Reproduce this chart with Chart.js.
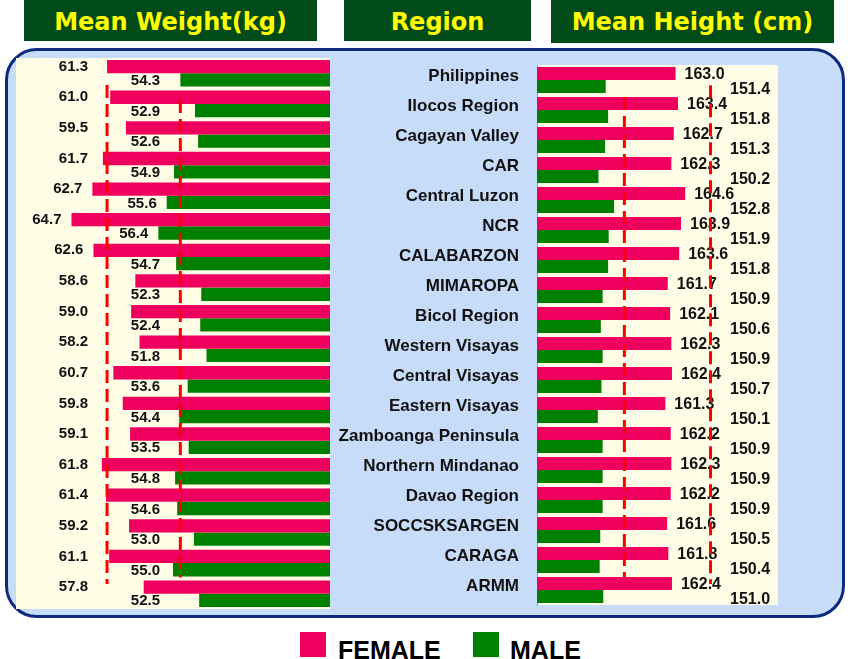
<!DOCTYPE html>
<html>
<head>
<meta charset="utf-8">
<script src="https://cdn.jsdelivr.net/npm/chart.js@4.4.1/dist/chart.umd.min.js"></script>
<style>
  body { margin: 0; width: 850px; height: 659px; background: #fff; position: relative; overflow: hidden; }
  .head { position: absolute; top: 0; background: #014b1b; color: #ffff00; text-align: center;
          font: bold 24px "DejaVu Sans", Verdana, sans-serif; }
  .panel { position: absolute; left: 5px; top: 48px; width: 840px; height: 570px; box-sizing: border-box;
           border: 3px solid #0d2b7e; border-radius: 32px; background: #c6dcf9; }
  canvas { position: absolute; }
  .swatch { position: absolute; top: 632px; width: 26px; height: 25px; }
  .legend-text { position: absolute; top: 636px; line-height: 25px; color: #000;
                 font: bold 25px "Liberation Sans", Arial, sans-serif; }
</style>
</head>
<body>
<div class="head" style="left:24px;width:293px;height:41px;line-height:44px;">Mean Weight(kg)</div>
<div class="head" style="left:344px;width:187px;height:41px;line-height:44px;">Region</div>
<div class="head" style="left:551px;width:283px;height:43px;line-height:45px;">Mean Height (cm)</div>

<div class="panel"></div>
<canvas id="weightChart" width="314" height="551" style="left:16px;top:58px;"></canvas>
<canvas id="heightChart" width="448" height="551" style="left:330px;top:58px;"></canvas>

<div class="swatch" style="left:300px;background:#f0005e;"></div>
<div class="legend-text" style="left:338px;">FEMALE</div>
<div class="swatch" style="left:473px;background:#008000;"></div>
<div class="legend-text" style="left:510px;">MALE</div>

<script>
// Data
const regions = ['Philippines', 'Ilocos Region', 'Cagayan Valley', 'CAR', 'Central Luzon', 'NCR',
    'CALABARZON', 'MIMAROPA', 'Bicol Region', 'Western Visayas', 'Central Visayas', 'Eastern Visayas',
    'Zamboanga Peninsula', 'Northern Mindanao', 'Davao Region', 'SOCCSKSARGEN', 'CARAGA', 'ARMM'];

const femaleWeight = [61.3, 61.0, 59.5, 61.7, 62.7, 64.7, 62.6, 58.6, 59.0, 58.2, 60.7, 59.8, 59.1, 61.8, 61.4, 59.2, 61.1, 57.8];
const maleWeight = [54.3, 52.9, 52.6, 54.9, 55.6, 56.4, 54.7, 52.3, 52.4, 51.8, 53.6, 54.4, 53.5, 54.8, 54.6, 53.0, 55.0, 52.5];

const femaleHeight = [163.0, 163.4, 162.7, 162.3, 164.6, 163.9, 163.6, 161.7, 162.1, 162.3, 162.4, 161.3, 162.2, 162.3, 162.2, 161.6, 161.8, 162.4];
const maleHeight = [151.4, 151.8, 151.3, 150.2, 152.8, 151.9, 151.8, 150.9, 150.6, 150.9, 150.7, 150.1, 150.9, 150.9, 150.9, 150.5, 150.4, 151.0];

// red dashed reference lines (value on x, span on the hidden 0-1 axis)
const weightRefLines = [61.3, 54.3];
const weightRefSpans = [[0, 0.996], [0.013, 0.966]];
const heightRefLines = [154.5, 168.8];
const heightRefSpans = [[0.006, 0.985], [-0.007, 1.009]];

const PINK = '#f0005e';
const GREEN = '#008000';
const CREAM = '#fffde6';
const LABEL_FONT = '"Liberation Sans", Arial, sans-serif';

/**
 * Cream fill behind the plot area
 */
const creamArea = {
    id: 'creamArea',
    beforeDraw(chart) {
        const { ctx, chartArea: a } = chart;
        ctx.save();
        ctx.fillStyle = CREAM;
        ctx.fillRect(a.left, a.top, a.right - a.left, a.bottom - a.top);
        ctx.restore();
    }
};

/**
 * Value labels next to each bar; place(bar, datasetIndex) gives x, y, align
 */
function valueLabels(fontSize, place) {
    return {
        id: 'valueLabels',
        afterDatasetsDraw(chart) {
            const ctx = chart.ctx;
            ctx.save();
            ctx.font = `bold ${fontSize}px ${LABEL_FONT}`;
            ctx.fillStyle = '#111';
            ctx.textBaseline = 'middle';
            chart.data.datasets.forEach((ds, d) => {
                chart.getDatasetMeta(d).data.forEach((bar, i) => {
                    const p = place(bar, d);
                    ctx.textAlign = p.align;
                    ctx.fillText(ds.data[i].toFixed(1), p.x, p.y);
                });
            });
            ctx.restore();
        }
    };
}

/**
 * Vertical dashed lines at given values, drawn over bars and labels
 */
function refLines(values, spans) {
    return {
        id: 'refLines',
        afterDatasetsDraw(chart) {
            const { ctx, scales } = chart;
            ctx.save();
            ctx.strokeStyle = '#ff0000';
            ctx.lineWidth = 3;
            ctx.setLineDash([13, 6]);
            values.forEach((v, i) => {
                const px = scales.x.getPixelForValue(v);
                ctx.beginPath();
                ctx.moveTo(px, scales.y2.getPixelForValue(spans[i][1]));
                ctx.lineTo(px, scales.y2.getPixelForValue(spans[i][0]));
                ctx.stroke();
            });
            ctx.restore();
        }
    };
}

function barSet(data, color) {
    return {
        data: data,
        backgroundColor: color,
        borderWidth: 0,
        barPercentage: 1,
        categoryPercentage: 0.87
    };
}

const common = {
    indexAxis: 'y',
    responsive: false,
    devicePixelRatio: 1,
    animation: false,
    events: [],
    plugins: { legend: { display: false }, tooltip: { enabled: false } }
};

// Left: mean weight, bars grow to the left
new Chart(document.getElementById('weightChart'), {
    type: 'bar',
    data: {
        labels: regions,
        datasets: [barSet(femaleWeight, PINK), barSet(maleWeight, GREEN)]
    },
    options: {
        ...common,
        layout: { padding: 0 },
        scales: {
            x: { type: 'linear', min: 40, max: 70, reverse: true, display: false },
            y: { type: 'category', display: false },
            y2: { type: 'linear', axis: 'y', min: 0, max: 1, display: false }
        }
    },
    plugins: [
        creamArea,
        valueLabels(15, (bar, ds) => ds === 0
            ? { x: Math.min(bar.x - 10, 72), y: bar.y, align: 'right' }
            : { x: Math.min(bar.x - 10, 144), y: bar.y + 1, align: 'right' }),
        refLines(weightRefLines, weightRefSpans)
    ]
});

// Right: mean height, region names on its axis
new Chart(document.getElementById('heightChart'), {
    type: 'bar',
    data: {
        labels: regions,
        datasets: [barSet(femaleHeight, PINK), barSet(maleHeight, GREEN)]
    },
    options: {
        ...common,
        layout: { padding: { top: 7, bottom: 4, left: 0, right: 0 } },
        scales: {
            x: { type: 'linear', min: 140, max: 180, display: false },
            y: {
                type: 'category',
                grid: { display: false, drawTicks: false },
                border: { display: true, color: '#9a9a9a', width: 1 },
                ticks: {
                    color: '#111',
                    padding: 18,
                    labelOffset: -4,
                    font: { family: LABEL_FONT, size: 17, weight: 'bold' }
                },
                afterFit(scale) {
                    scale.width = 207;
                    scale.paddingTop = 0;
                    scale.paddingBottom = 0;
                }
            },
            y2: { type: 'linear', axis: 'y', min: 0, max: 1, display: false }
        }
    },
    plugins: [
        creamArea,
        valueLabels(16, (bar, ds) => ds === 0
            ? { x: bar.x + 9, y: bar.y + 1, align: 'left' }
            : { x: Math.max(bar.x + 10, 400), y: bar.y + 3, align: 'left' }),
        refLines(heightRefLines, heightRefSpans)
    ]
});
</script>
</body>
</html>
